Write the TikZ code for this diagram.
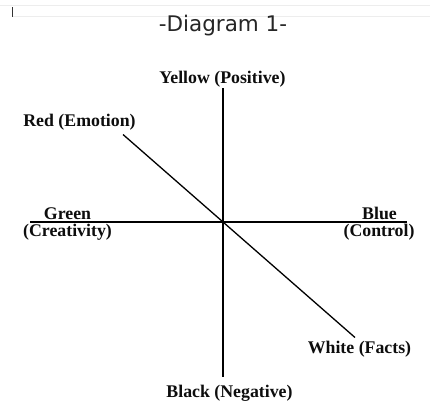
\documentclass[tikz,border=0pt]{standalone}
\usepackage{fontspec}
\setmainfont{Liberation Serif}
\newfontfamily\titlefont{DejaVu Sans}
\usetikzlibrary{positioning,calc}

\begin{document}
\begin{tikzpicture}[
  x=1pt, y=-1pt,
  hat/.style={font=\fontsize{17.8}{20}\selectfont\bfseries, text=black!95, inner sep=0pt, anchor=base},
  heading/.style={font=\titlefont\fontsize{21.5}{24}\selectfont, text=black!85, inner sep=0pt, anchor=base},
  axis/.style={line width=1.3pt, black},
  rule/.style={line width=0.6pt, black!7}
]
\useasboundingbox (0,0) rectangle (430,402);
\fill[white] (0,0) rectangle (430,402);

\draw[rule] (0,5.7) -- (430,5.7);
\draw[rule] (13,16.7) -- (430,16.7);
\draw[line width=0.9pt, black!80] (12,7) -- (12,17);

\node[heading] (title) at (223,31) {-Diagram 1-};

\coordinate (centre) at (223,222);
\coordinate (n) at (223,88);
\coordinate (s) at (223,377);
\coordinate (w) at (30,222);
\coordinate (e) at (407,222);
\coordinate (nw) at ($(centre)+(-100,-87.5)$);
\coordinate (se) at ($(centre)+(132,115.5)$);

\node[hat] (yellow) at (222.5,83) {Yellow (Positive)};
\node[hat] (red) at (79.5,126) {Red (Emotion)};
\node[hat] (green) at (67.5,219) {Green};
\node[hat] (creativity) at (67.5,236) {(Creativity)};
\node[hat] (blue) at (379.5,219) {Blue};
\node[hat] (control) at (379,236) {(Control)};
\node[hat] (white) at (359.5,353) {White (Facts)};
\node[hat] (black) at (229.5,397) {Black (Negative)};

\draw[axis] (n) -- (s);
\draw[axis] (w) -- (e);
\draw[axis] (nw) -- (se);
\end{tikzpicture}
\end{document}
